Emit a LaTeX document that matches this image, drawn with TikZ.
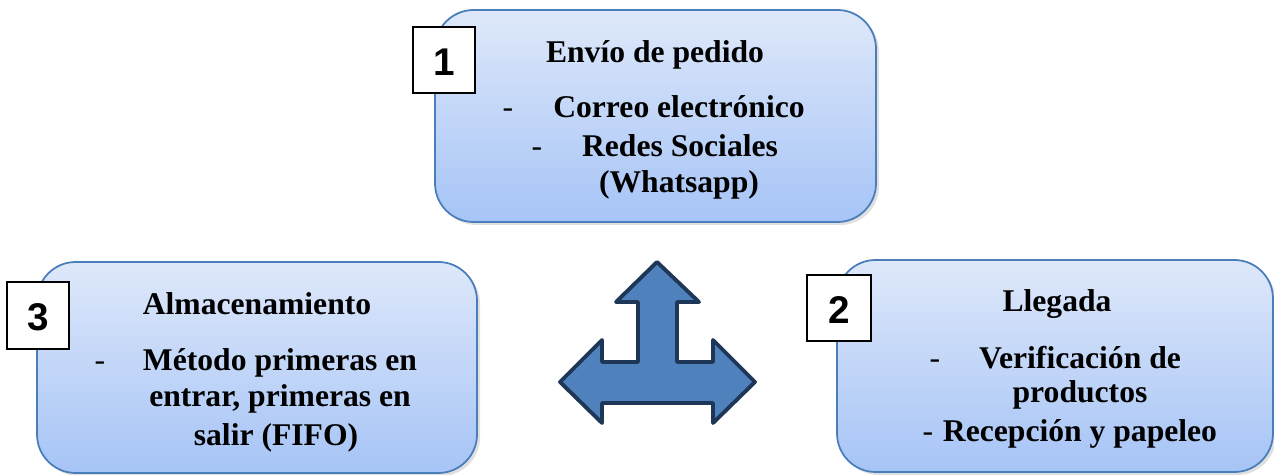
\documentclass[tikz,border=0pt]{standalone}
\usepackage{fontspec}
\setmainfont{Liberation Serif}
\newfontfamily\numfont{Liberation Sans}
\definecolor{boxtop}{HTML}{DEE8FA}
\definecolor{boxbot}{HTML}{A6C4F6}
\definecolor{boxline}{HTML}{4A7EBB}
\definecolor{arrowfill}{HTML}{4F81BD}
\definecolor{arrowline}{HTML}{1F3756}
\begin{document}
\begin{tikzpicture}[x=0.02cm,y=-0.02cm,
  stagebox/.style={rounded corners=22pt, draw=boxline, line width=1pt, top color=boxtop, bottom color=boxbot},
  shadowbox/.style={rounded corners=22pt, fill=black, fill opacity=0.12},
  numbox/.style={draw=black, line width=0.9pt, fill=white, inner sep=0pt},
  numtext/.style={font=\numfont\bfseries\fontsize{22}{24}\selectfont},
  title/.style={font=\bfseries\fontsize{18}{20}\selectfont, inner sep=0pt, anchor=base},
  item/.style={font=\bfseries\fontsize{18}{20}\selectfont, inner sep=0pt, anchor=base},
  dashmark/.style={font=\fontsize{18}{20}\selectfont, inner sep=0pt, anchor=base}
]
\useasboundingbox (0,0) rectangle (1274,475);

% shadows
\fill[shadowbox] (438,13) rectangle (879,225);
\fill[shadowbox] (40,265) rectangle (480,476);
\fill[shadowbox] (840,263) rectangle (1276,475);

% boxes
\path[stagebox] (435,10) rectangle (876,222);
\path[stagebox] (37,262) rectangle (477,473);
\path[stagebox] (837,260) rectangle (1273,472);

% number labels
\draw[numbox] (413,27) rectangle (475,93);
\node[numtext] (n1) at (444,62) {1};
\draw[numbox] (7,282) rectangle (69,349);
\node[numtext] (n3) at (38,317) {3};
\draw[numbox] (807,275) rectangle (871,341);
\node[numtext] (n2) at (839,310) {2};

% top box text
\node[title] (t1) at (655,63) {Envío de pedido};
\node[dashmark] (d11) at (508,118) {-};
\node[item] (i11) at (679,118) {Correo electrónico};
\node[dashmark] (d12) at (537,157) {-};
\node[item] (i12) at (680,157) {Redes Sociales};
\node[item] (i13) at (679,193) {(Whatsapp)};

% left box text
\node[title] (t3) at (257,315) {Almacenamiento};
\node[dashmark] (d31) at (100,371) {-};
\node[item] (i31) at (280,371) {Método primeras en};
\node[item] (i32) at (280,407) {entrar, primeras en};
\node[item] (i33) at (276,446) {salir (FIFO)};

% right box text
\node[title] (t2) at (1057,312) {Llegada};
\node[dashmark] (d21) at (935,369) {-};
\node[item] (i21) at (1080,369) {Verificación de};
\node[item] (i22) at (1080,403) {productos};
\node[dashmark] (d22) at (928,442) {-};
\node[item] (i23) at (1080,442) {Recepción y papeleo};

% three-way arrow
\draw[fill=arrowfill, draw=arrowline, line width=2.2pt, line join=round]
  (657,262) -- (699,302) -- (677,302) -- (677,362) -- (713,362) -- (713,340)
  -- (755,382) -- (713,423) -- (713,403) -- (602,403) -- (602,423) -- (560,382)
  -- (602,340) -- (602,362) -- (638,362) -- (638,302) -- (616,302) -- cycle;
\end{tikzpicture}
\end{document}
